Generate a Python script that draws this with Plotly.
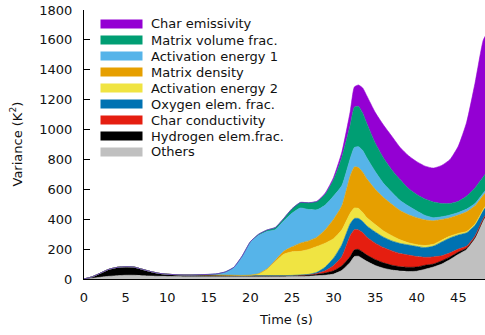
import plotly.graph_objects as go

# Time (s)
time = [0, 1, 2, 3, 4, 5, 6, 7, 8, 9, 10, 11, 12, 13, 14, 15, 16, 17, 18, 19, 20,
        21, 22, 23, 24, 25, 26, 27, 28, 29, 30, 31, 32, 32.5, 33, 33.5, 34, 35, 36,
        37, 38, 39, 40, 41, 42, 43, 44, 45, 46, 47, 48, 48.5]

# Variance contributions (K^2), stacked bottom -> top
others = [0, 5, 12, 18, 22, 25, 25, 22, 20, 18, 17, 16, 15, 15, 15, 15, 15, 15, 15, 15, 15,
          15, 15, 15, 15, 16, 17, 19, 22, 25, 33, 58, 112, 150, 152, 135, 118, 90, 72,
          60, 53, 50, 52, 65, 80, 100, 130, 165, 198, 272, 395, 440]
hydrogen = [0, 10, 28, 47, 56, 57, 55, 43, 30, 20, 15, 13, 12, 12, 13, 13, 12, 11, 10, 9, 8,
            8, 8, 8, 8, 8, 8, 8, 10, 15, 22, 30, 38, 45, 46, 45, 42, 40, 36,
            32, 29, 28, 28, 27, 20, 22, 18, 15, 9, 6, 3, 2]
char_cond = [0, 0, 0, 0, 0, 0, 0, 0, 0, 0, 0, 0, 0, 0, 0, 0, 0, 0, 0, 0, 0,
             0, 0, 0, 0, 0, 1, 2, 5, 15, 35, 62, 140, 135, 130, 130, 120, 110, 102,
             96, 88, 82, 70, 53, 48, 33, 27, 20, 13, 10, 7, 6]
oxygen = [0, 0, 0, 0, 0, 0, 0, 0, 0, 0, 0, 0, 0, 0, 0, 0, 0, 0, 0, 0, 0,
          0, 0, 0, 0, 0, 1, 2, 8, 25, 50, 80, 80, 75, 77, 75, 75, 75, 70,
          67, 68, 68, 68, 65, 72, 93, 100, 95, 90, 72, 55, 52]
act_energy2 = [0, 0, 0, 0, 0, 0, 0, 0, 0, 0, 0, 0, 0, 0, 0, 0, 0, 0, 0, 0, 3,
               12, 42, 92, 142, 158, 158, 167, 173, 160, 130, 100, 70, 70, 67, 60, 55, 50, 42,
               35, 24, 14, 12, 14, 12, 12, 12, 10, 8, 8, 7, 7]
matrix_density = [0, 0, 0, 0, 0, 0, 0, 0, 0, 0, 0, 0, 0, 0, 0, 0, 0, 0, 0, 0, 0,
                  1, 3, 10, 20, 33, 55, 57, 62, 90, 130, 160, 250, 275, 273, 270, 260, 235, 223,
                  210, 196, 188, 180, 171, 158, 138, 123, 123, 132, 122, 93, 88]
act_energy1 = [0, 0, 0, 0, 0, 0, 0, 0, 0, 0, 0, 0, 0, 0, 1, 2, 7, 20, 51, 126, 219,
               256, 250, 205, 203, 225, 235, 210, 183, 165, 155, 135, 115, 130, 140, 145, 140, 120, 95,
               80, 67, 58, 45, 30, 20, 18, 18, 17, 18, 15, 15, 15]
matrix_vol = [0, 0, 0, 0, 0, 0, 0, 0, 0, 0, 0, 0, 0, 0, 0, 1, 1, 2, 2, 3, 5,
              8, 10, 15, 17, 30, 37, 45, 55, 73, 110, 190, 225, 270, 270, 250, 230, 190, 170,
              150, 140, 117, 110, 110, 105, 89, 77, 75, 87, 105, 110, 110]
char_emis = [0, 0, 0, 0, 0, 0, 0, 0, 0, 0, 0, 0, 0, 0, 0, 0, 0, 0, 0, 0, 0,
             0, 0, 0, 0, 0, 0, 0, 2, 7, 15, 35, 90, 135, 143, 168, 185, 205, 220,
             225, 215, 220, 220, 220, 227, 255, 295, 370, 495, 700, 915, 930]

# bottom -> top order
names = ["Others", "Hydrogen elem.frac.", "Char conductivity", "Oxygen elem. frac.",
         "Activation energy 2", "Matrix density", "Activation energy 1",
         "Matrix volume frac.", "Char emissivity"]
series = [others, hydrogen, char_cond, oxygen, act_energy2, matrix_density,
          act_energy1, matrix_vol, char_emis]
colors = ["#c0c0c0", "#000000", "#e51e10", "#0072b2", "#f0e442", "#e69f00",
          "#56b4e9", "#009e73", "#9400d3"]

yticks = [0, 200, 400, 600, 800, 1000, 1200, 1400, 1600, 1800]
xticks = [0, 5, 10, 15, 20, 25, 30, 35, 40, 45]

FONT = "DejaVu Sans"
TXT = "#111111"

fig = go.Figure()
for name, vals, col in zip(names, series, colors):
    fig.add_trace(go.Scatter(
        x=time, y=vals, name=name, stackgroup="one", mode="lines",
        line=dict(color=col, width=0.6, shape="spline", smoothing=0.5),
        fillcolor=col, showlegend=False, hoverinfo="skip"))

# geometry helpers (pixel -> paper)
W, H = 485, 335
L_M, R_M, T_M, B_M = 84, 0, 10, 56
PW = W - L_M - R_M
PH = H - T_M - B_M


def px_x(px):
    return (px - L_M) / PW


def px_y(py):
    return (H - B_M - py) / PH


shapes = []
annotations = []
legend_order = list(range(len(names)))[::-1]  # top row = last stacked
for i, idx in enumerate(legend_order):
    cy = 24 + 16 * i
    shapes.append(dict(type="rect", xref="paper", yref="paper",
                       x0=px_x(100.5), x1=px_x(142.5),
                       y0=px_y(cy + 4.5), y1=px_y(cy - 4.5),
                       fillcolor=colors[idx], line=dict(width=0), layer="above"))
    annotations.append(dict(xref="paper", yref="paper", x=px_x(149), y=px_y(cy),
                            xanchor="left", yanchor="middle", showarrow=False,
                            text=names[idx], font=dict(family=FONT, size=13, color=TXT)))

annotations.append(dict(xref="paper", yref="paper", x=px_x(286), y=px_y(319),
                        xanchor="center", yanchor="middle", showarrow=False,
                        text="Time (s)", font=dict(family=FONT, size=13, color=TXT)))
annotations.append(dict(xref="paper", yref="paper", x=px_x(16.5), y=px_y(144),
                        xanchor="center", yanchor="middle", showarrow=False, textangle=-90,
                        text="Variance (K<sup>2</sup>)", font=dict(family=FONT, size=13, color=TXT)))

xr = [0, 48.2]
fig.update_layout(
    width=W, height=H,
    margin=dict(l=L_M, r=R_M, t=T_M, b=B_M, pad=0),
    paper_bgcolor="white", plot_bgcolor="white",
    font=dict(family=FONT, size=13, color=TXT),
    showlegend=False,
    xaxis=dict(range=xr, tickvals=xticks, ticks="", showline=True, linecolor="black",
               linewidth=1, showgrid=False, zeroline=False, ticklabelstandoff=6,
               tickfont=dict(family=FONT, size=13, color=TXT), layer="above traces"),
    xaxis2=dict(range=xr, tickvals=xticks, overlaying="x", side="top", anchor="y",
                ticks="inside", ticklen=6, tickcolor="black", showticklabels=False,
                showline=True, linecolor="black", linewidth=1, showgrid=False,
                zeroline=False),
    yaxis=dict(range=[0, 1800], tickvals=yticks, ticks="inside", ticklen=6,
               tickcolor="black", showline=True, linecolor="black", linewidth=1,
               showgrid=False, zeroline=False, ticklabelstandoff=8,
               tickfont=dict(family=FONT, size=13, color=TXT)),
    shapes=shapes, annotations=annotations,
)

fig.write_html("out.html")
